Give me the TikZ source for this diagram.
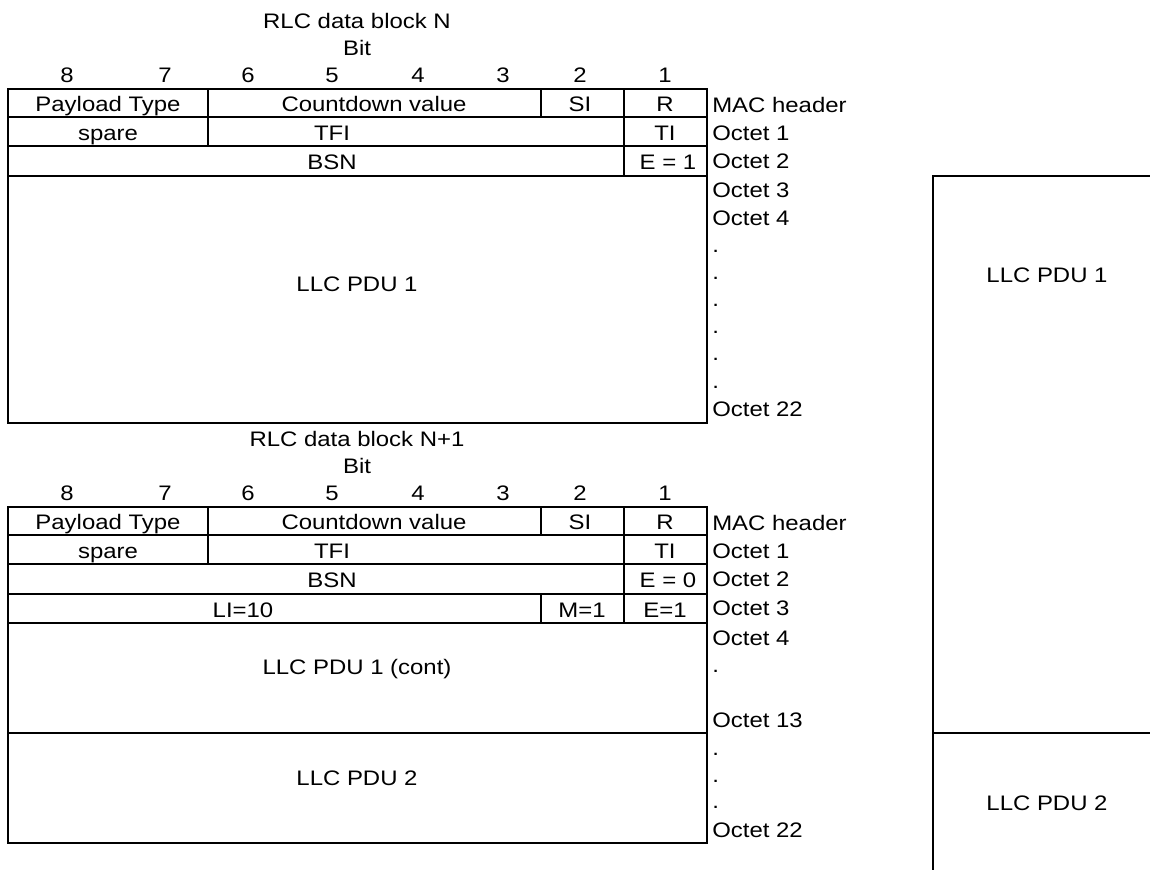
\documentclass[tikz,border=0pt]{standalone}
\usepackage{fontspec}
\setmainfont{Liberation Sans}[FakeStretch=1.14]
\begin{document}
\begin{tikzpicture}[x=0.75pt,y=-0.75pt,
  txt/.style={inner sep=0pt, anchor=base, font=\fontsize{15.75pt}{18pt}\selectfont},
  lbl/.style={txt, anchor=base west},
  grid/.style={draw=black, line width=1.2pt}]
\useasboundingbox (0,0) rectangle (1150,869);
\clip (0,0) rectangle (1150,869);

\newcommand\blockhead[3]{%
  \node[txt] (#1title) at (357,{#2+28}) {#3};
  \node[txt] (#1bit) at (357,{#2+55}) {Bit};
  \foreach \b/\x in {8/67,7/165,6/248,5/332,4/418,3/503,2/580,1/665}
    \node[txt] (#1b\b) at (\x,{#2+82}) {\b};
  % row 1
  \draw[grid] (8,{#2+89}) rectangle (707,{#2+117});
  \draw[grid] (208,{#2+89}) -- (208,{#2+117});
  \draw[grid] (541,{#2+89}) -- (541,{#2+117});
  \draw[grid] (624,{#2+89}) -- (624,{#2+117});
  \node[txt] (#1pt) at (108,{#2+111}) {Payload Type};
  \node[txt] (#1cv) at (374,{#2+111}) {Countdown value};
  \node[txt] (#1si) at (580,{#2+111}) {SI};
  \node[txt] (#1r)  at (665,{#2+111}) {R};
  % row 2
  \draw[grid] (8,{#2+117}) rectangle (707,{#2+146});
  \draw[grid] (208,{#2+117}) -- (208,{#2+146});
  \draw[grid] (624,{#2+117}) -- (624,{#2+146});
  \node[txt] (#1sp)  at (108,{#2+140}) {spare};
  \node[txt] (#1tfi) at (332,{#2+140}) {TFI};
  \node[txt] (#1ti)  at (665,{#2+140}) {TI};
  % row 3
  \draw[grid] (8,{#2+146}) rectangle (707,{#2+176});
  \draw[grid] (624,{#2+146}) -- (624,{#2+176});
  \node[txt] (#1bsn) at (332,{#2+169}) {BSN};
  % labels
  \node[lbl] (#1mac) at (712,{#2+112}) {MAC header};
  \node[lbl] (#1o1) at (712,{#2+140}) {Octet 1};
  \node[lbl] (#1o2) at (712,{#2+168}) {Octet 2};
  \node[lbl] (#1o3) at (712,{#2+197}) {Octet 3};
}

% ---------- block N ----------
\blockhead{a}{0}{RLC data block N}
\node[txt] (ae) at (668,169) {E = 1};
\draw[grid] (8,176) rectangle (707,423);
\node[txt] (allc1) at (357,291) {LLC PDU 1};
\node[lbl] (ao4) at (712,225) {Octet 4};
\foreach \y [count=\i] in {252,279,306,333,360,388}
  \node[lbl] (ad\i) at (712,\y) {.};
\node[lbl] (ao22) at (712,416) {Octet 22};

% ---------- block N+1 ----------
\blockhead{b}{418}{RLC data block N+1}
\node[txt] (be) at (668,587) {E = 0};
\draw[grid] (8,594) rectangle (707,623);
\draw[grid] (541,594) -- (541,623);
\draw[grid] (624,594) -- (624,623);
\node[txt] (bli) at (243,617) {LI=10};
\node[txt] (bm)  at (582,617) {M=1};
\node[txt] (be1) at (665,617) {E=1};
\draw[grid] (8,623) rectangle (707,733);
\node[txt] (bllc1) at (357,674) {LLC PDU 1 (cont)};
\draw[grid] (8,733) rectangle (707,843);
\node[txt] (bllc2) at (357,785) {LLC PDU 2};
\node[lbl] (bo4) at (712,645) {Octet 4};
\node[lbl] (bd1) at (712,672) {.};
\node[lbl] (bo13) at (712,727) {Octet 13};
\foreach \y [count=\i from 2] in {755,782,808}
  \node[lbl] (bd\i) at (712,\y) {.};
\node[lbl] (bo22) at (712,837) {Octet 22};

% ---------- right column ----------
\draw[grid] (1155,176) -- (933,176) -- (933,875);
\draw[grid] (933,733) -- (1155,733);
\node[txt] (rllc1) at (1047,282) {LLC PDU 1};
\node[txt] (rllc2) at (1047,810) {LLC PDU 2};
\end{tikzpicture}
\end{document}
